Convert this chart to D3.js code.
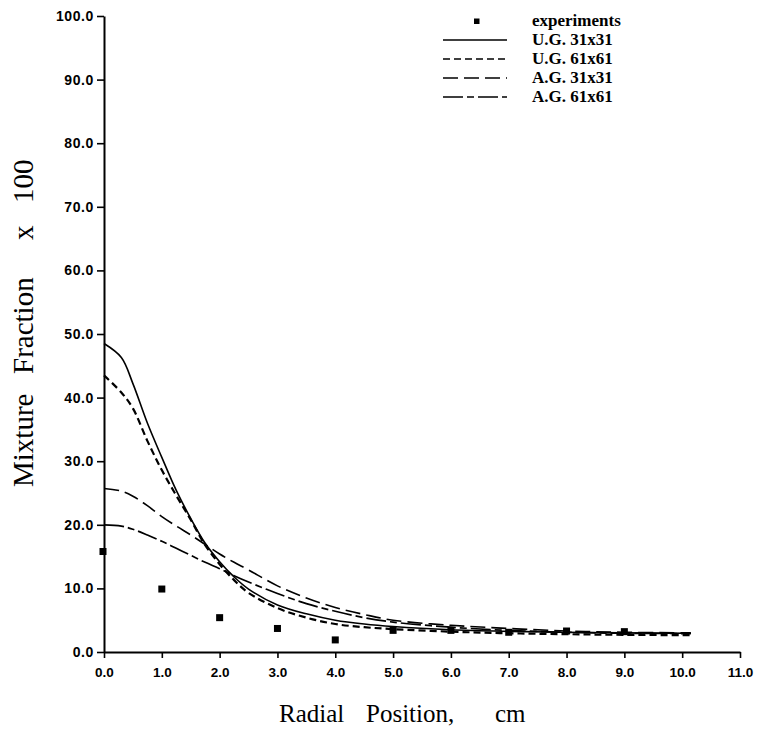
<!DOCTYPE html>
<html><head><meta charset="utf-8">
<script src="https://cdn.jsdelivr.net/npm/d3@7"></script>
<style>body{margin:0;background:#fff}svg{display:block}</style>
</head><body>
<script>
// ---- data ----
const xTicks = [0,1,2,3,4,5,6,7,8,9,10,11];
const yTicks = [0,10,20,30,40,50,60,70,80,90,100];
const expX = [0,1,2,3,4,5,6,7,8,9];
const expY = [15.8,9.9,5.4,3.7,1.9,3.4,3.4,3.1,3.3,3.2];
const curveX = [0,0.3,0.5,0.75,1.0,1.25,1.5,1.75,2.0,2.25,2.5,3.0,3.5,4.0,4.5,5.0,6.0,7.0,8.0,9.0,10.15];
const ug31 = [48.5,46.3,42.2,36.0,30.6,25.4,21.0,17.1,14.2,11.8,9.9,7.4,6.0,5.0,4.4,4.0,3.5,3.25,3.1,3.0,2.95];
const ug61 = [43.5,40.8,38.3,33.2,28.6,24.6,20.8,16.8,13.8,11.3,9.3,6.9,5.4,4.4,3.9,3.6,3.2,2.95,2.8,2.7,2.65];
const ag31 = [25.7,25.3,24.5,23.0,21.3,19.8,18.4,16.9,15.4,14.1,12.9,10.4,8.5,7.0,5.9,5.0,4.2,3.7,3.3,3.1,3.0];
const ag61 = [20.0,19.8,19.3,18.4,17.4,16.3,15.2,14.1,13.1,12.0,11.0,9.2,7.6,6.4,5.4,4.7,3.9,3.4,3.1,2.95,2.9];
const seriesNames = ["U.G. 31x31","U.G. 61x61","A.G. 31x31","A.G. 61x61"];
const seriesVals = [ug31, ug61, ag31, ag61];
const seriesDash = [null, "7,4", "15,6", "20,4,7,4"];
const seriesWidth = [1.6, 2.2, 1.6, 1.7];

const W = 758, H = 729;
const svg = d3.select("body").append("svg").attr("width", W).attr("height", H);
const x = d3.scaleLinear().domain([0, 11]).range([104, 740]);
const y = d3.scaleLinear().domain([0, 100]).range([652, 16]);
const tickFont = "'Liberation Sans', Arial, sans-serif";
const serif = "'Liberation Serif', 'Times New Roman', serif";

// axes
const xAxis = svg.append("g").attr("transform", `translate(0,${y(0)})`)
  .call(d3.axisBottom(x).tickValues(xTicks).tickFormat(d3.format(".1f")).tickSize(6).tickSizeOuter(0));
const yAxis = svg.append("g").attr("transform", `translate(${x(0)},0)`)
  .call(d3.axisLeft(y).tickValues(yTicks).tickFormat(d3.format(".1f")).tickSize(7).tickSizeOuter(0));
[xAxis, yAxis].forEach(g => {
  g.select(".domain").attr("stroke", "#000").attr("stroke-width", 2);
  g.selectAll(".tick line").attr("stroke", "#000").attr("stroke-width", 1.6);
  g.selectAll(".tick text").attr("fill", "#000").attr("font-family", tickFont)
    .attr("font-weight", "bold").attr("font-size", 13.5);
});
xAxis.selectAll(".tick text").attr("dy", "1.15em");
yAxis.selectAll(".tick text").attr("x", -10).attr("font-size", 14).attr("letter-spacing", 0.6);

// curves
const line = d3.line().x(d => x(d[0])).y(d => y(d[1])).curve(d3.curveCatmullRom.alpha(0.5));
seriesVals.forEach((vals, i) => {
  svg.append("path").datum(curveX.map((xv, j) => [xv, vals[j]]))
    .attr("d", line).attr("fill", "none").attr("stroke", "#000")
    .attr("stroke-width", seriesWidth[i])
    .attr("stroke-dasharray", seriesDash[i]);
});

// experiments
svg.append("g").selectAll("rect").data(expX.map((xv, j) => [xv, expY[j]])).join("rect")
  .attr("x", d => x(d[0]) - 3.5 - (d[0] === 0 ? 1 : 0)).attr("y", d => y(d[1]) - 3.5)
  .attr("width", 7).attr("height", 7).attr("fill", "#000");

// legend
const leg = svg.append("g");
const legY = [21, 40, 59, 78, 97];
leg.append("rect").attr("x", 474).attr("y", legY[0] - 2.5).attr("width", 5.5).attr("height", 5.5).attr("fill", "#000");
leg.append("text").attr("x", 532).attr("y", legY[0] + 5).text("experiments");
seriesNames.forEach((n, i) => {
  leg.append("line").attr("x1", 443).attr("x2", 507).attr("y1", legY[i + 1]).attr("y2", legY[i + 1])
    .attr("stroke", "#000").attr("stroke-width", 1.5).attr("stroke-dasharray", seriesDash[i]);
  leg.append("text").attr("x", 532).attr("y", legY[i + 1] + 5).text(n);
});
leg.selectAll("text").attr("font-family", serif).attr("font-weight", "bold").attr("font-size", 17).attr("fill", "#000");

// axis titles
const xt = svg.append("text").attr("y", 722).attr("font-family", serif).attr("font-size", 25).attr("fill", "#000");
xt.append("tspan").attr("x", 279).text("Radial");
xt.append("tspan").attr("x", 366).text("Position,");
xt.append("tspan").attr("x", 495).text("cm");

const yt = svg.append("text").attr("transform", "rotate(-90)").attr("y", 33)
  .attr("font-family", serif).attr("font-size", 29).attr("fill", "#000");
yt.append("tspan").attr("x", -487).text("Mixture");
yt.append("tspan").attr("x", -374).text("Fraction");
yt.append("tspan").attr("x", -240).text("x");
yt.append("tspan").attr("x", -203).text("100");
</script>
</body></html>
